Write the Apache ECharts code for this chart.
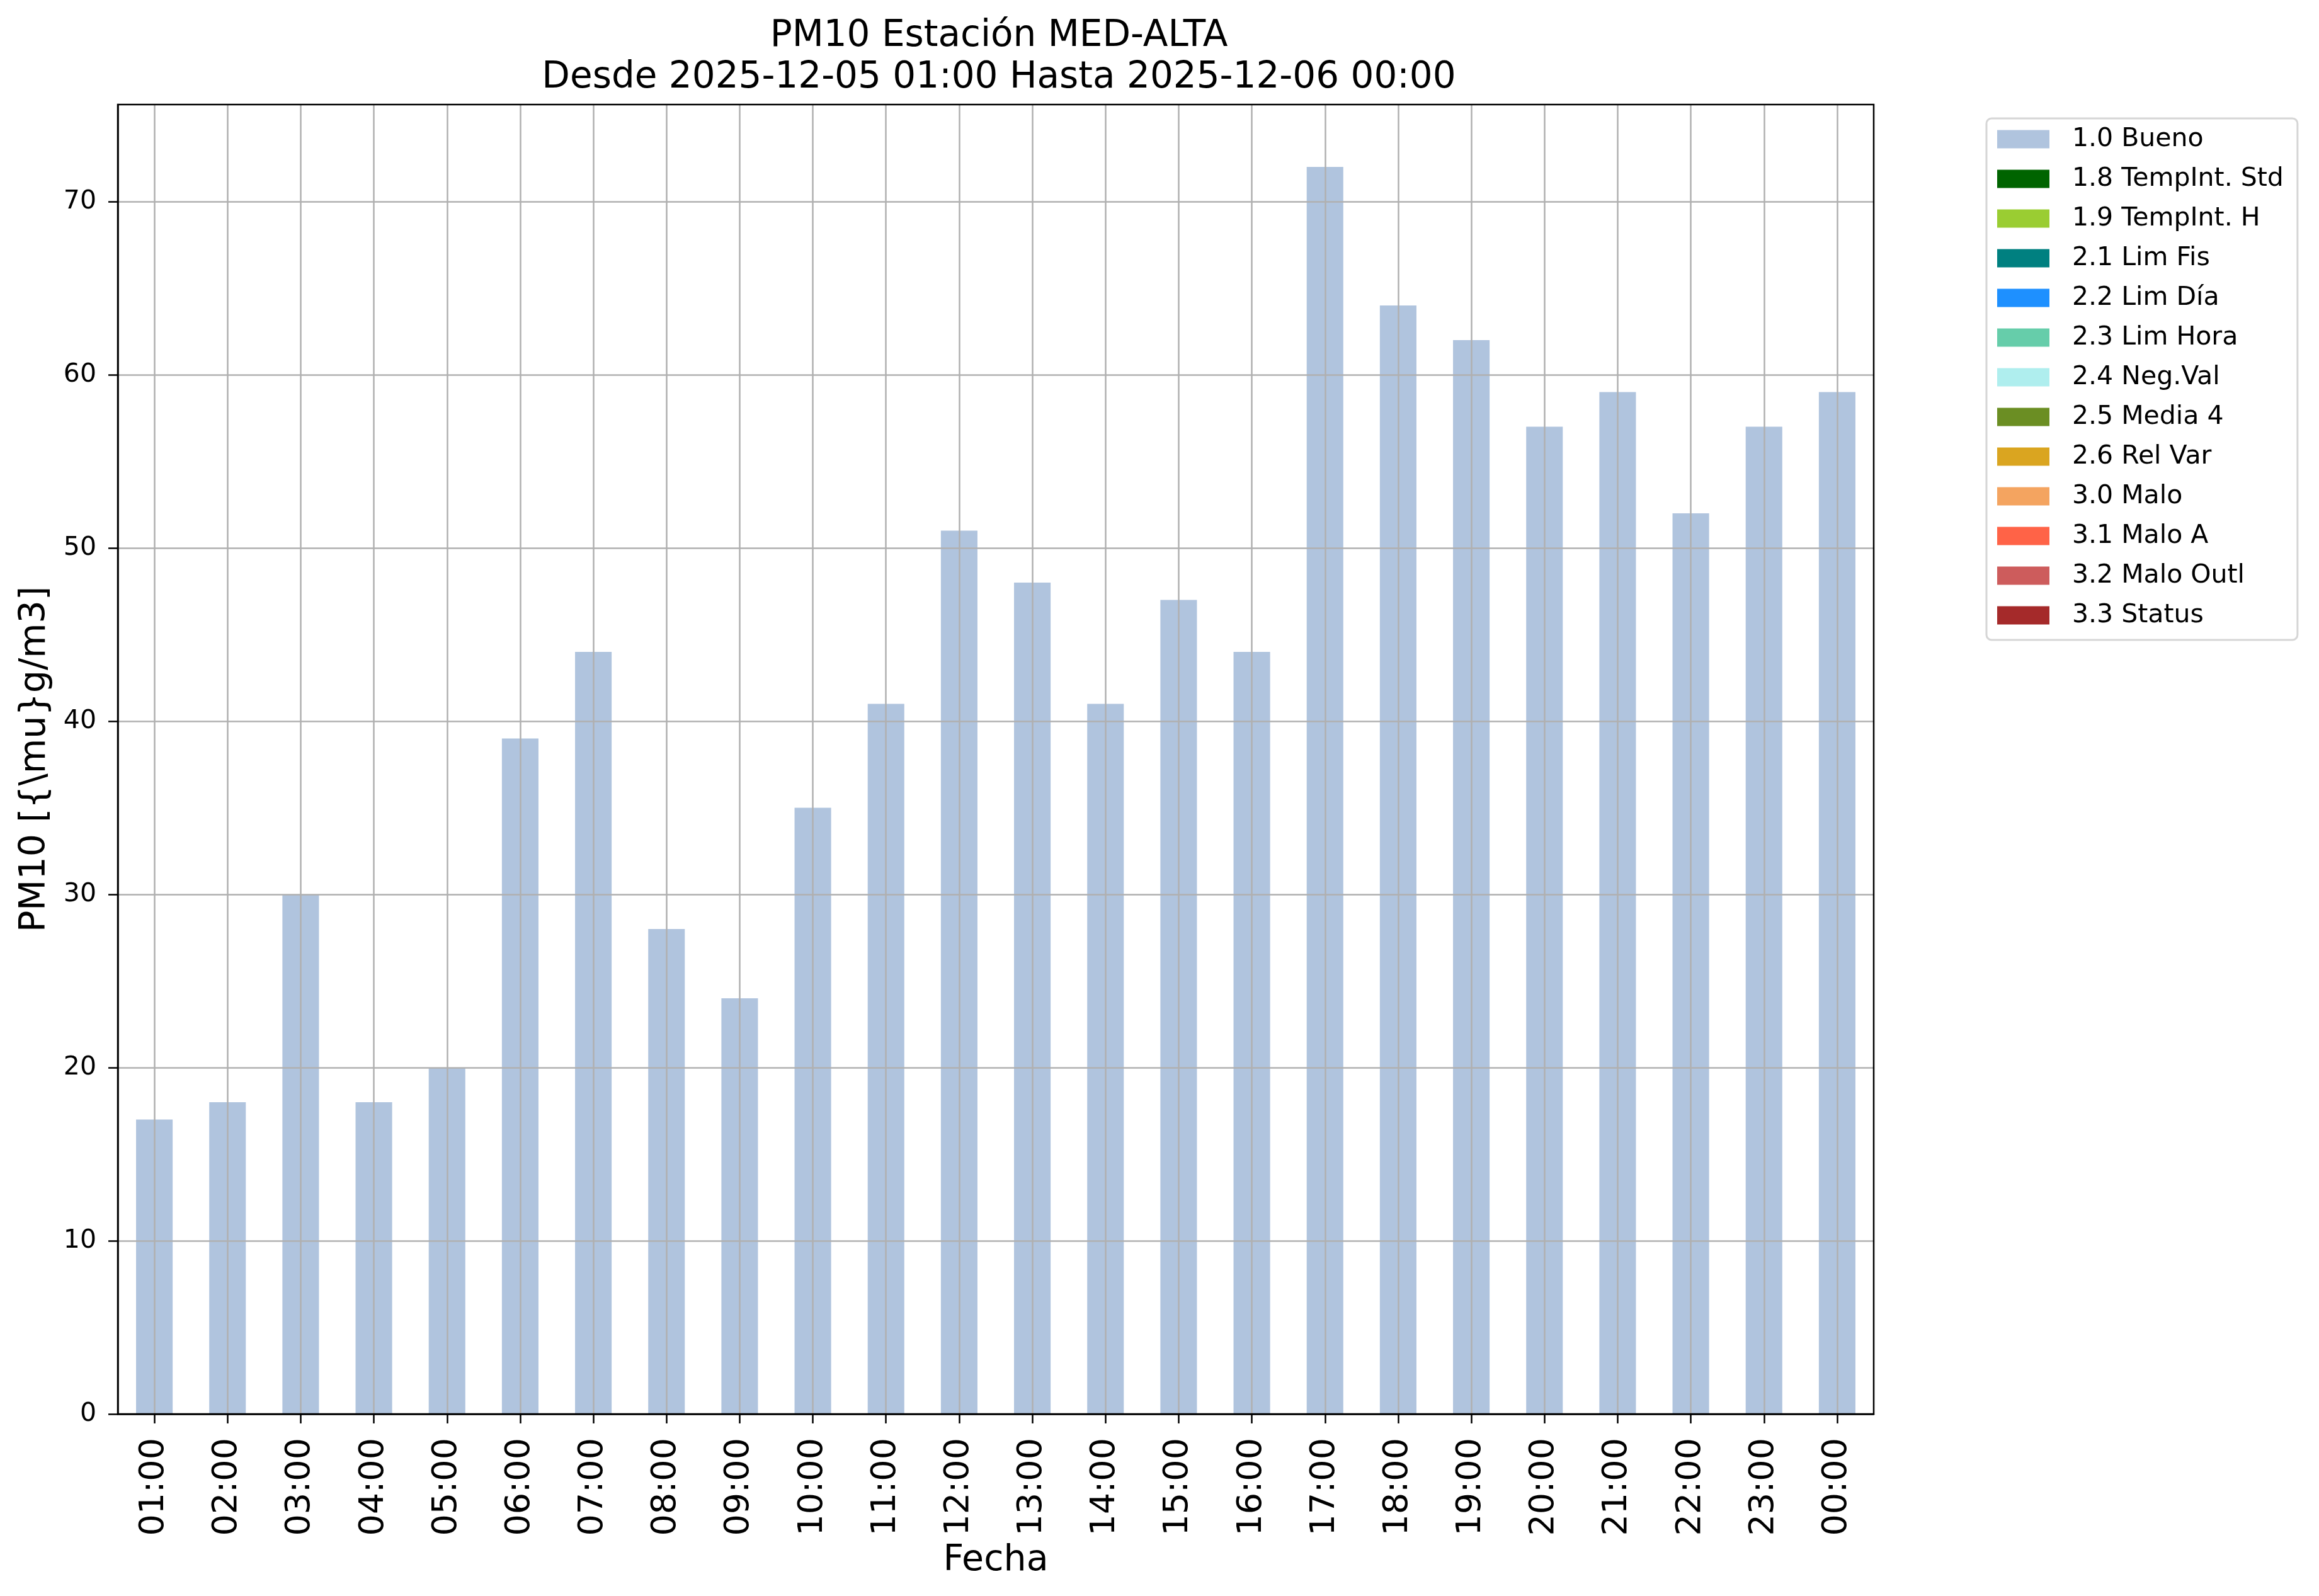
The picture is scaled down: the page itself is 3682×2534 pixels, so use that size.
<!DOCTYPE html>
<html>
<head>
<meta charset="utf-8">
<script src="https://cdn.jsdelivr.net/npm/echarts@6/dist/echarts.min.js"></script>
<style>
html,body{margin:0;padding:0;background:#fff;}
#chart{width:3682px;height:2534px;}
</style>
</head>
<body>
<div id="chart"></div>
<script>
const categories = ["01:00","02:00","03:00","04:00","05:00","06:00","07:00","08:00","09:00","10:00","11:00","12:00","13:00","14:00","15:00","16:00","17:00","18:00","19:00","20:00","21:00","22:00","23:00","00:00"];
const buenoValues = [17,18,30,18,20,39,44,28,24,35,41,51,48,41,47,44,72,64,62,57,59,52,57,59];
const flagNames = ["1.0 Bueno","1.8 TempInt. Std","1.9 TempInt. H","2.1 Lim Fis","2.2 Lim Día","2.3 Lim Hora","2.4 Neg.Val","2.5 Media 4","2.6 Rel Var","3.0 Malo","3.1 Malo A","3.2 Malo Outl","3.3 Status"];
const flagColors = ["#b0c4de","#006400","#9acd32","#008080","#1e90ff","#66cdaa","#afeeee","#6b8e23","#daa520","#f4a460","#ff6347","#cd5c5c","#a52a2a"];
const yTicks = [0,10,20,30,40,50,60,70];
const yMax = 75.6;
const titleText = "PM10 Estación MED-ALTA\nDesde 2025-12-05 01:00 Hasta 2025-12-06 00:00";
const yName = "PM10 [{\\mu}g/m3]";
const xName = "Fecha";

const FONT = "DejaVu Sans";
const series = flagNames.map((name, i) => ({
  name: name,
  type: 'bar',
  stack: 'total',
  barWidth: '50%',
  itemStyle: { color: flagColors[i] },
  data: i === 0 ? buenoValues : categories.map(() => null),
  z: 2
}));

const chart = echarts.init(document.getElementById('chart'), null, {renderer: 'canvas'});
chart.setOption({
  animation: false,
  backgroundColor: '#ffffff',
  textStyle: { fontFamily: FONT, color: '#000' },
  title: {
    text: titleText,
    left: 1581,
    top: 20,
    textAlign: 'center',
    textStyle: { fontFamily: FONT, fontSize: 58, fontWeight: 'normal', color: '#000', lineHeight: 66 }
  },
  grid: {
    left: 187, right: 707, top: 166, bottom: 289,
    outerBoundsMode: 'none',
    containLabel: false,
    show: true, borderColor: '#000', borderWidth: 2.5, backgroundColor: 'transparent',
    z: 5
  },
  legend: {
    orient: 'vertical',
    left: 3154,
    top: 188,
    padding: [12, 22, 18, 17],
    itemWidth: 83,
    itemHeight: 29,
    itemGap: 21,
    icon: 'rect',
    selectedMode: false,
    backgroundColor: '#ffffff',
    borderColor: '#d6d6d6',
    borderWidth: 3,
    borderRadius: 8,
    textStyle: { fontFamily: FONT, fontSize: 41, color: '#000', lineHeight: 42, padding: [0, 0, 0, 31] },
    data: flagNames
  },
  xAxis: {
    type: 'category',
    data: categories,
    boundaryGap: true,
    z: 4,
    name: xName,
    nameLocation: 'middle',
    nameGap: 205,
    nameTextStyle: { fontFamily: FONT, fontSize: 57, color: '#000' },
    axisLine: { show: true, lineStyle: { color: '#000', width: 2.5 } },
    axisTick: { show: true, alignWithLabel: true, length: 15, lineStyle: { color: '#000', width: 2.5 } },
    axisLabel: { rotate: 90, fontFamily: FONT, fontSize: 54, color: '#000', margin: 38, interval: 0 },
    splitLine: { show: true, alignWithLabel: true, interval: 0, lineStyle: { color: '#b0b0b0', width: 2.5 } }
  },
  yAxis: {
    type: 'value',
    min: 0,
    max: yMax,
    interval: 10,
    z: 4,
    name: yName,
    nameLocation: 'middle',
    nameGap: 102,
    nameRotate: 90,
    nameTextStyle: { fontFamily: FONT, fontSize: 57, color: '#000' },
    axisLine: { show: true, lineStyle: { color: '#000', width: 2.5 } },
    axisTick: { show: true, length: 15, customValues: yTicks, lineStyle: { color: '#000', width: 2.5 } },
    axisLabel: { fontFamily: FONT, fontSize: 41, color: '#000', margin: 34, customValues: yTicks },
    splitLine: { show: true, lineStyle: { color: '#b0b0b0', width: 2.5 } }
  },
  series: series
});
</script>
</body>
</html>
